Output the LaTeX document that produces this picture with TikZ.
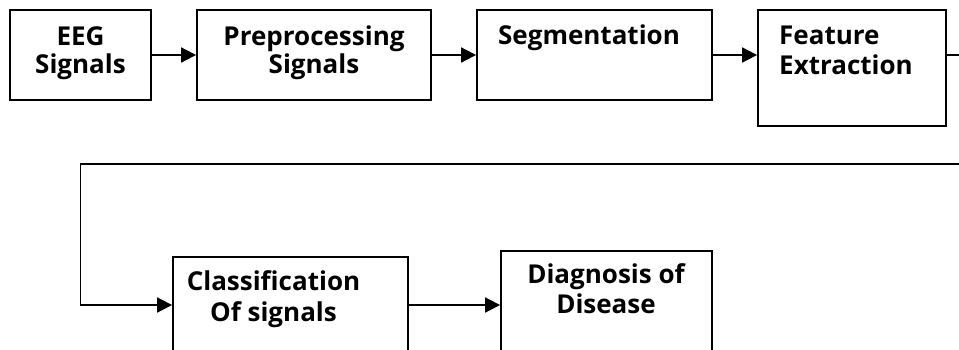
\documentclass[tikz,border=0pt]{standalone}
\usepackage{fontspec}
\setsansfont{Open Sans}
\usetikzlibrary{arrows.meta}

\begin{document}
\begin{tikzpicture}[x=1pt,y=-1pt,>={Triangle[length=15pt,width=15pt]},
	box/.style={draw,line width=1.8pt,inner sep=0pt},
	lbl/.style={font=\sffamily\bfseries\fontsize{26}{28}\selectfont,align=center,anchor=base,inner sep=0pt},
	wire/.style={line width=1.8pt}]
	\useasboundingbox (0,0) rectangle (959,349);
	\clip (0,0) rectangle (959,349);
	% top row
	\node [box,minimum width=141pt,minimum height=90pt] (eeg) at (80.5,55) {};
	\node [box,minimum width=234pt,minimum height=90pt] (pre) at (314,55) {};
	\node [box,minimum width=235pt,minimum height=90pt] (seg) at (594.5,55) {};
	\node [box,minimum width=188pt,minimum height=116pt] (feat) at (852,68) {};
	\node [lbl] (eegt) at (80.5,73) {EEG\\Signals};
	\node [lbl] (pret) at (314,73) {Preprocessing\\Signals};
	\node [lbl] (segt) at (589,44) {Segmentation};
	\node [lbl,align=left,anchor=base west,font=\sffamily\bfseries\fontsize{26}{30}\selectfont] (featt) at (779,74) {Feature\\Extraction};
	% bottom row
	\node [box,minimum width=235pt,minimum height=96pt] (class) at (290.5,305) {};
	\node [box,minimum width=211pt,minimum height=108pt] (diag) at (606.5,305) {};
	\node [lbl,font=\sffamily\bfseries\fontsize{26}{31}\selectfont] (classt) at (273.5,321.5) {Classification\\Of signals};
	\node [lbl,font=\sffamily\bfseries\fontsize{26}{30}\selectfont] (diagt) at (606,313) {Diagnosis of\\Disease};
	% connectors
	\coordinate (rturn) at (975,164);
	\coordinate (lturn) at (80.5,164);
	\draw [wire,->] (eeg) -- (pre);
	\draw [wire,->] (pre) -- (seg);
	\draw [wire,->] (seg.east) -- (seg.east -| feat.west);
	\draw [wire,->] (feat.east |- seg.east) -| (rturn) -- (lturn) |- (class.west);
	\draw [wire,->] (class) -- (diag);
\end{tikzpicture}
\end{document}
